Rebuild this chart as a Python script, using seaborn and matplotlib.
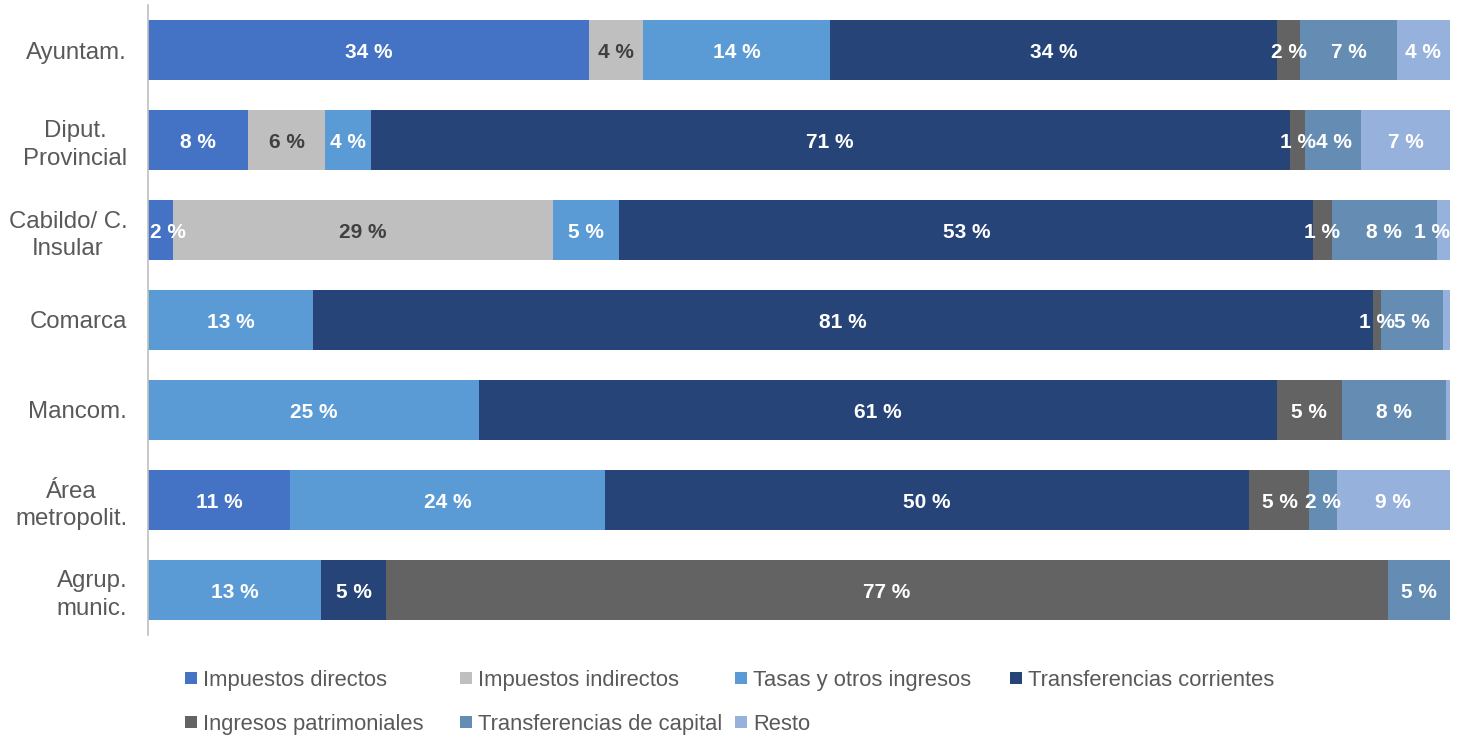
import numpy as np
import pandas as pd
import matplotlib.pyplot as plt
from matplotlib.patches import Rectangle
import seaborn as sns

# ── Data ──────────────────────────────────────────────────────────────────────

categories = ["Ayuntam.", "Diput.\nProvincial", "Cabildo/ C.\nInsular", "Comarca",
              "Mancom.", "Área\nmetropolit.", "Agrup.\nmunic."]

series_names = ["Impuestos directos", "Impuestos indirectos", "Tasas y otros ingresos",
                "Transferencias corrientes", "Ingresos patrimoniales",
                "Transferencias de capital", "Resto"]

imp_directos   = [33.9, 7.7, 1.9, 0.0, 0.0, 10.9, 0.0]
imp_indirectos = [4.1, 5.9, 29.2, 0.0, 0.0, 0.0, 0.0]
tasas          = [14.4, 3.5, 5.1, 12.7, 25.4, 24.2, 13.3]
transf_corr    = [34.3, 70.6, 53.3, 81.4, 61.3, 49.5, 5.0]
ing_patrim     = [1.8, 1.2, 1.4, 0.6, 5.0, 4.6, 76.9]
transf_capital = [7.4, 4.3, 8.1, 4.8, 8.0, 2.1, 4.8]
resto          = [4.1, 6.8, 1.0, 0.5, 0.3, 8.7, 0.0]

colors = ["#4472C4", "#BFBFBF", "#5B9BD5", "#264478", "#636363", "#658DB3", "#97B1DD"]
label_colors = ["white", "#404040", "white", "white", "white", "white", "white"]

values = np.array([imp_directos, imp_indirectos, tasas, transf_corr,
                   ing_patrim, transf_capital, resto])
cum = values.cumsum(axis=0)

# ── Plot ──────────────────────────────────────────────────────────────────────

sns.set_style("white")
plt.rcParams["font.family"] = ["Liberation Sans", "DejaVu Sans"]

fig = plt.figure(figsize=(14.6, 7.35), dpi=100)
ax = fig.add_axes([148 / 1460, 1 - 635 / 735, 1302 / 1460, 630 / 735])

# stacked bars: draw cumulative totals from the outermost layer inwards
for i in range(len(series_names) - 1, -1, -1):
    df = pd.DataFrame({"cat": categories, "val": cum[i]})
    sns.barplot(data=df, x="val", y="cat", order=categories, orient="h",
                color=colors[i], saturation=1, width=0.667, ax=ax,
                edgecolor="none")

# segment labels
for i in range(len(series_names)):
    for j in range(len(categories)):
        v = values[i, j]
        if round(v) == 0:
            continue
        start = cum[i, j] - v
        centre, ha = start + v / 2, "center"
        # keep tiny end segments' labels inside the plot area
        if cum[i, j] > 99.8 and v < 3:
            centre, ha = 100, "right"
        elif start < 0.2 and v < 3:
            centre, ha = 0.15, "left"
        ax.text(centre, j, f"{round(v)} %", ha=ha, va="center_baseline",
                fontsize=15, fontweight="bold", color=label_colors[i])

ax.set_xlim(0, 100)
ax.set_ylim(6.5, -0.5)
ax.set_xlabel("")
ax.set_ylabel("")
ax.set_xticks([])
ax.tick_params(axis="y", length=0, pad=15, labelsize=17.3, labelcolor="#595959")
for lab in ax.get_yticklabels():
    lab.set_multialignment("center")
    lab.set_linespacing(1.35)

for side in ["top", "right", "bottom"]:
    ax.spines[side].set_visible(False)
ax.spines["left"].set_color("#BFBFBF")
ax.spines["left"].set_linewidth(1.2)

# legend laid out on a fixed grid, row-major like the original
W, H = 1460, 735
for k, name in enumerate(series_names):
    row, col = divmod(k, 4)
    x0 = 185 + 275 * col
    yc = 678 + 44 * row
    fig.add_artist(Rectangle((x0 / W, 1 - (yc + 6) / H), 12 / W, 12 / H,
                             transform=fig.transFigure, color=colors[k], lw=0))
    fig.text((x0 + 18) / W, 1 - yc / H, name, ha="left", va="center_baseline",
             fontsize=15.8, color="#595959")

fig.savefig("out.png", dpi=100)
